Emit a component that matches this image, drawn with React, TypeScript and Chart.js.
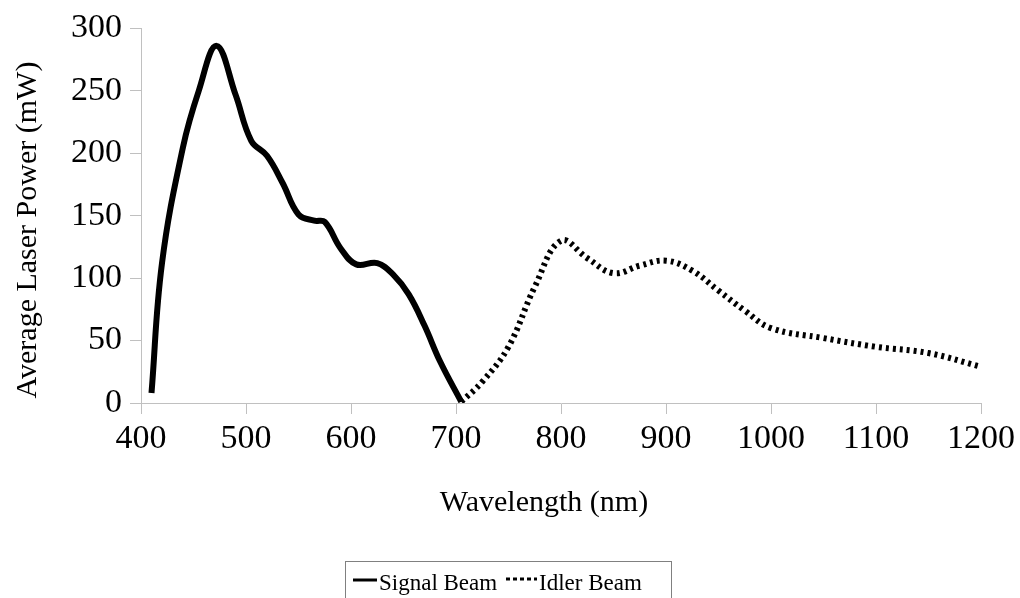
import React, { useEffect, useRef } from "react";
import { Chart, registerables } from "chart.js";

Chart.register(...registerables);

// Data
const signalWavelength = [410, 420, 440, 455, 472, 490, 505, 520, 535, 550, 565, 575, 590, 605, 625, 640, 655, 670, 685, 705];
const signalPower = [8, 112, 205, 250, 286, 247, 210, 198, 176, 151, 146, 145, 124, 111, 112, 103, 87, 62, 33, 1];

const idlerWavelength = [705, 725, 750, 775, 800, 825, 850, 875, 900, 925, 950, 975, 1000, 1050, 1100, 1150, 1200];
const idlerPower = [1, 17, 45, 93, 130, 116, 104, 110, 114, 106, 90, 74, 60, 52, 45, 40, 29];

const seriesNames = ["Signal Beam", "Idler Beam"];
const xTitle = "Wavelength (nm)";
const yTitle = "Average Laser Power (mW)";

const FONT = "'Liberation Serif', 'Times New Roman', serif";

const textPlugin = {
  id: "textPlugin",
  afterDraw(chart: any) {
    const ctx = chart.ctx;
    ctx.save();
    ctx.fillStyle = "#000";
    // axis titles
    ctx.font = `30px ${FONT}`;
    ctx.textAlign = "center";
    ctx.textBaseline = "middle";
    ctx.fillText(xTitle, 544, 503);
    ctx.save();
    ctx.translate(28, 230);
    ctx.rotate(-Math.PI / 2);
    ctx.fillText(yTitle, 0, 0);
    ctx.restore();

    // legend
    ctx.strokeStyle = "#808080";
    ctx.lineWidth = 1;
    ctx.strokeRect(345.5, 561.5, 326, 50);
    ctx.strokeStyle = "#000";
    ctx.lineWidth = 3;
    ctx.lineCap = "butt";
    ctx.beginPath();
    ctx.moveTo(353, 580);
    ctx.lineTo(377, 580);
    ctx.stroke();
    ctx.setLineDash([4, 3]);
    ctx.beginPath();
    ctx.moveTo(506, 579);
    ctx.lineTo(537, 579);
    ctx.stroke();
    ctx.setLineDash([]);
    ctx.font = `23px ${FONT}`;
    ctx.textAlign = "left";
    ctx.textBaseline = "alphabetic";
    ctx.fillText(seriesNames[0], 379, 590);
    ctx.fillText(seriesNames[1], 539, 590);
    ctx.restore();
  },
};

export default function App() {
  const ref = useRef<HTMLCanvasElement>(null);
  useEffect(() => {
    if (!ref.current) return;
    const chart = new Chart(ref.current, {
      type: "line",
      data: {
        datasets: [
          {
            label: seriesNames[0],
            data: signalWavelength.map((x, i) => ({ x, y: signalPower[i] })),
            borderColor: "#000",
            backgroundColor: "#000",
            borderWidth: 6,
            pointRadius: 0,
            tension: 0.4,
            borderCapStyle: "butt",
            borderJoinStyle: "round",
          },
          {
            label: seriesNames[1],
            data: idlerWavelength.map((x, i) => ({ x, y: idlerPower[i] })),
            borderColor: "#000",
            backgroundColor: "#000",
            borderWidth: 6,
            borderDash: [3, 4],
            pointRadius: 0,
            tension: 0.4,
            borderCapStyle: "butt",
            borderJoinStyle: "round",
          },
        ],
      },
      options: {
        responsive: false,
        animation: false,
        layout: { padding: { top: 24, right: 39, bottom: 0, left: 0 } },
        plugins: {
          legend: { display: false },
          tooltip: { enabled: false },
        },
        scales: {
          x: {
            type: "linear",
            min: 400,
            max: 1200,
            ticks: {
              stepSize: 100,
              color: "#000",
              padding: 5,
              font: { family: FONT, size: 34 },
              maxRotation: 0,
              callback: (v: any) => String(v),
            },
            grid: {
              drawOnChartArea: false,
              drawTicks: true,
              tickLength: 11,
              tickColor: "#c0c0c0",
            },
            border: { color: "#c0c0c0", width: 1 },
            afterFit(scale: any) {
              scale.height = 195;
            },
          },
          y: {
            type: "linear",
            min: 0,
            max: 300,
            ticks: {
              stepSize: 50,
              color: "#000",
              padding: 8,
              font: { family: FONT, size: 34 },
              callback: (v: any) => String(v),
            },
            grid: {
              drawOnChartArea: false,
              drawTicks: true,
              tickLength: 11,
              tickColor: "#c0c0c0",
            },
            border: { color: "#c0c0c0", width: 1 },
            afterFit(scale: any) {
              scale.width = 141;
            },
          },
        },
      },
      plugins: [textPlugin],
    });
    return () => chart.destroy();
  }, []);
  return (
    <div style={{ position: "fixed", left: 0, top: 0, width: 1020, height: 598, background: "#fff" }}>
      <canvas ref={ref} width={1020} height={598} />
    </div>
  );
}
